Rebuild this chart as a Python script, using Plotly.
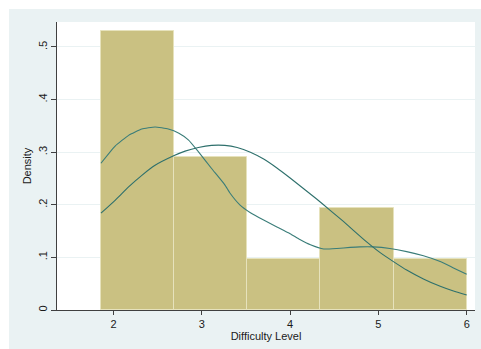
import plotly.graph_objects as go

# Histogram (density scale)
bin_edges = [1.857, 2.686, 3.514, 4.343, 5.171, 6.0]
densities = [0.531, 0.290, 0.097, 0.193, 0.097]

# Kernel density curve (bimodal)
kde_x = [1.857, 2.02, 2.17, 2.32, 2.47, 2.62, 2.74, 2.85, 2.96, 3.11, 3.26, 3.32,
         3.43, 3.55, 3.70, 3.85, 4.00, 4.11, 4.23, 4.38, 4.53, 4.68, 4.79, 4.94,
         5.13, 5.32, 5.51, 5.70, 5.85, 6.00]
kde_y = [0.279, 0.312, 0.332, 0.344, 0.348, 0.344, 0.336, 0.323, 0.301, 0.269, 0.238, 0.222,
         0.200, 0.185, 0.171, 0.158, 0.145, 0.134, 0.124, 0.116, 0.117, 0.119, 0.120, 0.120,
         0.117, 0.111, 0.103, 0.092, 0.080, 0.068]

# Normal density curve
norm_x = [1.857, 2.02, 2.17, 2.32, 2.47, 2.68, 2.81, 2.96, 3.11, 3.26, 3.40, 3.55,
          3.70, 3.85, 4.00, 4.15, 4.30, 4.45, 4.60, 4.72, 4.87, 5.02, 5.17, 5.32,
          5.51, 5.70, 5.85, 6.00]
norm_y = [0.184, 0.209, 0.234, 0.256, 0.275, 0.293, 0.302, 0.309, 0.313, 0.313, 0.309, 0.300,
          0.287, 0.270, 0.251, 0.231, 0.211, 0.190, 0.169, 0.151, 0.129, 0.109, 0.092, 0.076,
          0.059, 0.045, 0.036, 0.0285]

x_ticks = [2, 3, 4, 5, 6]
y_ticks = [0, 0.1, 0.2, 0.3, 0.4, 0.5]
y_ticktext = ["0", ".1", ".2", ".3", ".4", ".5"]

centers = [(a + b) / 2 for a, b in zip(bin_edges[:-1], bin_edges[1:])]
widths = [b - a for a, b in zip(bin_edges[:-1], bin_edges[1:])]

fig = go.Figure()
fig.add_trace(go.Bar(x=centers, y=densities, width=widths,
                     marker=dict(color="#CAC182", line=dict(color="#E6E2BC", width=1)),
                     showlegend=False, hoverinfo="skip"))
fig.add_trace(go.Scatter(x=kde_x, y=kde_y, mode="lines",
                         line=dict(color="#3A7D79", width=1.1, shape="spline", smoothing=0.4),
                         showlegend=False))
fig.add_trace(go.Scatter(x=norm_x, y=norm_y, mode="lines",
                         line=dict(color="#2E706C", width=1.1, shape="spline", smoothing=0.4),
                         showlegend=False))

font = dict(family="Liberation Sans, Arial, sans-serif", size=11, color="#1a1a1a")

fig.update_layout(
    width=481, height=349,
    margin=dict(l=57, r=6, t=22, b=39),
    paper_bgcolor="#EAF2F3",
    plot_bgcolor="#FFFFFF",
    font=font,
    bargap=0,
    xaxis=dict(range=[1.359, 6.094], tickvals=x_ticks, ticks="outside", ticklen=4,
               tickcolor="#404040", showgrid=False, zeroline=False,
               showline=True, linecolor="#404040", linewidth=1,
               title=dict(text="Difficulty Level", standoff=0, font=font)),
    yaxis=dict(range=[0, 0.5475], tickvals=y_ticks, ticktext=y_ticktext, tickangle=-90,
               ticks="outside", ticklen=5, tickcolor="#404040",
               showgrid=True, gridcolor="#EAF2F3", gridwidth=1, zeroline=False,
               showline=True, linecolor="#404040", linewidth=1,
               title=dict(text="Density", standoff=2, font=font)),
    shapes=[
        dict(type="rect", xref="paper", yref="paper", x0=-57/418, x1=-48/418, y0=-39/288, y1=1 + 22/288,
             fillcolor="white", line=dict(width=0), layer="below"),
        dict(type="rect", xref="paper", yref="paper", x0=-57/418, x1=1 + 6/418, y0=1 + 13/288, y1=1 + 22/288,
             fillcolor="white", line=dict(width=0), layer="below"),
    ],
)

fig.write_html("out.html")
